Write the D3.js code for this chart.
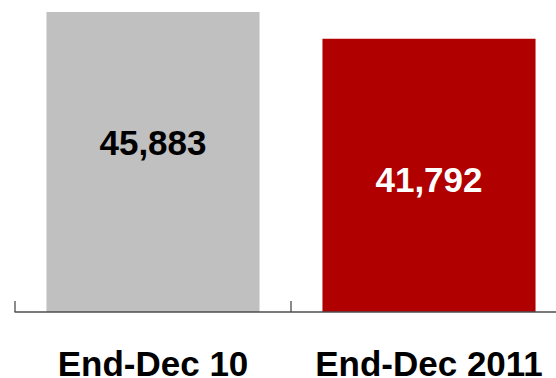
<!DOCTYPE html>
<html>
<head>
<meta charset="utf-8">
<script src="https://cdn.jsdelivr.net/npm/d3@7"></script>
<style>
  html, body { margin: 0; padding: 0; background: #fff; }
  svg { display: block; }
  text { font-family: "Liberation Sans", Arial, sans-serif; font-weight: bold; }
</style>
</head>
<body>
<svg id="chart" width="556" height="378"></svg>
<script>
// Period-end totals
const categories = ["End-Dec 10", "End-Dec 2011"];
const values = [45883, 41792];
const valueLabels = ["45,883", "41,792"];

const barColors = ["#c0c0c0", "#b00000"];
const labelColors = ["#000000", "#ffffff"];
// vertical nudge of each in-bar label from the bar's midpoint
const labelShift = [-20, 4.5];

const W = 556, H = 378;
const baseY = 312;
const svg = d3.select("#chart");

const x = d3.scaleBand()
  .domain(categories)
  .range([15, 567])
  .paddingInner(0.228)
  .paddingOuter(0.114);

const y = d3.scaleLinear()
  .domain([0, 45883])
  .range([baseY, 12]);

const rows = categories.map((c, i) => ({ c, v: values[i], label: valueLabels[i], i }));

svg.selectAll("rect.bar")
  .data(rows)
  .join("rect")
  .attr("class", "bar")
  .attr("x", d => x(d.c))
  .attr("width", x.bandwidth())
  .attr("y", d => y(d.v))
  .attr("height", d => y(0) - y(d.v))
  .attr("fill", d => barColors[d.i]);

// in-bar value labels
svg.selectAll("text.val")
  .data(rows)
  .join("text")
  .attr("class", "val")
  .attr("x", d => x(d.c) + x.bandwidth() / 2)
  .attr("y", d => (y(d.v) + y(0)) / 2 + labelShift[d.i])
  .attr("dy", "0.36em")
  .attr("text-anchor", "middle")
  .attr("font-size", 35)
  .attr("fill", d => labelColors[d.i])
  .text(d => d.label);

// baseline with upward ticks at category boundaries
const step = x.step();
const bounds = categories.map((c, i) => x.range()[0] + i * step);
const axis = svg.append("g").attr("stroke", "#4d4d4d").attr("stroke-width", 1.3);
axis.append("line")
  .attr("x1", 14.5).attr("x2", W)
  .attr("y1", y(0)).attr("y2", y(0));
axis.selectAll("line.tick")
  .data(bounds)
  .join("line")
  .attr("class", "tick")
  .attr("x1", d => d).attr("x2", d => d)
  .attr("y1", y(0)).attr("y2", y(0) - 11);

// category labels
svg.selectAll("text.cat")
  .data(rows)
  .join("text")
  .attr("class", "cat")
  .attr("x", d => x(d.c) + x.bandwidth() / 2)
  .attr("y", 375.5)
  .attr("text-anchor", "middle")
  .attr("font-size", 35)
  .attr("fill", "#000")
  .text(d => d.c);
</script>
</body>
</html>
